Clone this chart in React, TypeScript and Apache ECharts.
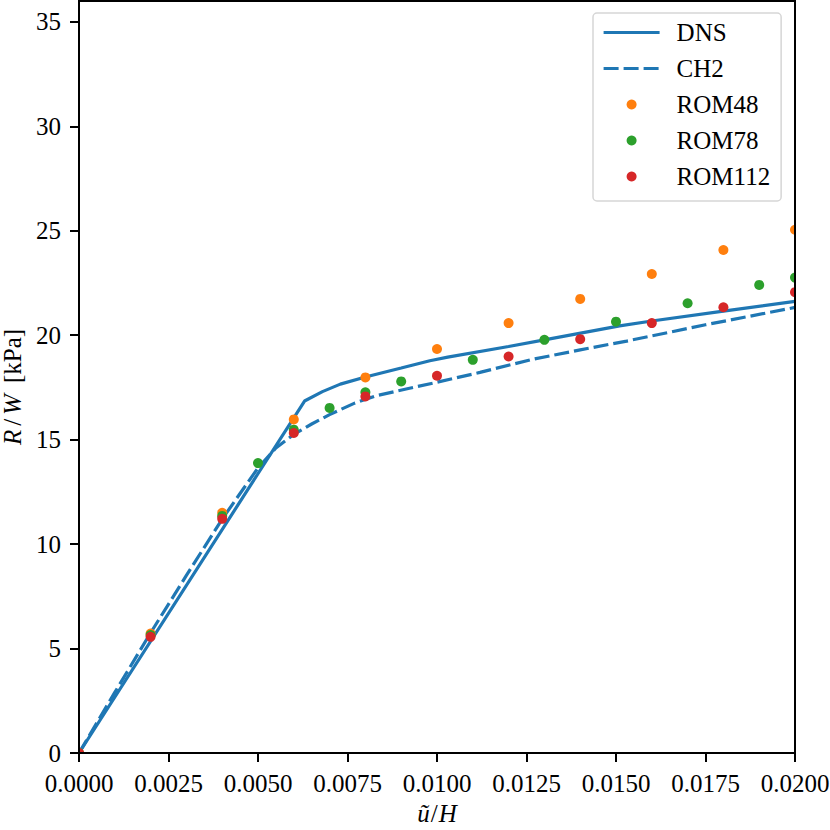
import React, { useEffect, useRef } from "react";
import * as echarts from "echarts";

// ---- data ----
const dnsX = [0, 0.0063, 0.0068, 0.0073, 0.008, 0.009, 0.0098, 0.0103, 0.012, 0.013, 0.0151, 0.016, 0.018, 0.02];
const dnsY = [0, 16.85, 17.3, 17.66, 18.0, 18.43, 18.78, 18.95, 19.46, 19.78, 20.45, 20.68, 21.15, 21.62];

const ch2X = [0, 0.001, 0.002, 0.003, 0.004, 0.005, 0.0055, 0.006, 0.0065, 0.007, 0.0077, 0.0083, 0.0092, 0.01, 0.0112, 0.0126, 0.014, 0.0153, 0.0175, 0.02];
const ch2Y = [0, 2.9, 5.75, 8.5, 11.2, 13.65, 14.6, 15.25, 15.75, 16.2, 16.75, 17.1, 17.45, 17.75, 18.22, 18.82, 19.3, 19.72, 20.5, 21.33];

const rom48X = [0, 0.002, 0.004, 0.006, 0.008, 0.01, 0.012, 0.014, 0.016, 0.018, 0.02];
const rom48Y = [0, 5.72, 11.5, 15.97, 17.98, 19.34, 20.58, 21.74, 22.93, 24.08, 25.05];

const rom78X = [0, 0.002, 0.004, 0.005, 0.006, 0.007, 0.008, 0.009, 0.011, 0.013, 0.015, 0.017, 0.019, 0.02];
const rom78Y = [0, 5.65, 11.35, 13.88, 15.48, 16.52, 17.27, 17.79, 18.82, 19.78, 20.65, 21.53, 22.41, 22.76];

const rom112X = [0, 0.002, 0.004, 0.006, 0.008, 0.01, 0.012, 0.014, 0.016, 0.018, 0.02];
const rom112Y = [0, 5.56, 11.21, 15.32, 17.07, 18.06, 18.98, 19.81, 20.58, 21.34, 22.06];

const yTicks = [0, 5, 10, 15, 20, 25, 30, 35];
const seriesNames = ["DNS", "CH2", "ROM48", "ROM78", "ROM112"];

const FONT = "'Liberation Serif', 'Times New Roman', serif";
const BLUE = "#1f77b4";

const pairs = (xs: number[], ys: number[]) => xs.map((x, i) => [x, ys[i]]);

export default function App() {
  const ref = useRef<HTMLDivElement>(null);
  useEffect(() => {
    if (!ref.current) return;
    const chart = echarts.init(ref.current, undefined, { renderer: "svg" });
    const W = 830;
    const H = 830;
    const gl = 79, gr = 795, gt = 1, gb = 753;
    chart.setOption({
      animation: false,
      backgroundColor: "#fff",
      grid: {
        left: gl,
        right: W - gr,
        top: gt,
        bottom: H - gb,
        show: true,
        borderColor: "#000",
        borderWidth: 2,
        containLabel: false,
        outerBoundsMode: "none",
        z: 4,
      },
      xAxis: {
        type: "value",
        min: 0,
        max: 0.02,
        interval: 0.0025,
        z: 4,
        axisLine: { show: true, onZero: false, lineStyle: { color: "#000", width: 2 } },
        axisTick: { show: true, inside: false, length: 9, lineStyle: { color: "#000", width: 2 } },
        splitLine: { show: false },
        axisLabel: {
          margin: 18,
          fontSize: 25,
          fontFamily: FONT,
          color: "#000",
          formatter: (v: number) => v.toFixed(4),
        },
        name: "{i|ũ}{n|/}{i|H}",
        nameLocation: "middle",
        nameGap: 23,
        nameTextStyle: {
          fontSize: 25,
          fontFamily: FONT,
          color: "#000",
          rich: {
            i: { fontSize: 25, fontFamily: FONT, fontStyle: "italic", color: "#000" },
            n: { fontSize: 25, fontFamily: FONT, color: "#000", padding: [0, 1, 0, 1] },
          },
        },
      },
      yAxis: {
        type: "value",
        min: 0,
        max: 36,
        interval: 5,
        z: 4,
        axisLine: { show: true, onZero: false, lineStyle: { color: "#000", width: 2 } },
        axisTick: {
          show: true,
          inside: false,
          length: 9,
          customValues: yTicks,
          lineStyle: { color: "#000", width: 2 },
        },
        splitLine: { show: false },
        axisLabel: {
          margin: 18,
          fontSize: 25,
          fontFamily: FONT,
          color: "#000",
          customValues: yTicks,
        },
        name: "{i|R}{s|/}{i|W}{n|[kPa]}",
        nameLocation: "middle",
        nameGap: 54,
        nameTextStyle: {
          fontSize: 25,
          fontFamily: FONT,
          color: "#000",
          padding: [0, 20, 0, 0],
          rich: {
            i: { fontSize: 25, fontFamily: FONT, fontStyle: "italic", color: "#000" },
            s: { fontSize: 25, fontFamily: FONT, color: "#000", padding: [0, 4, 0, 4] },
            n: { fontSize: 25, fontFamily: FONT, color: "#000", padding: [0, 0, 0, 11] },
          },
        },
      },
      legend: {
        show: true,
        orient: "vertical",
        left: 593,
        top: 13,
        z: 6,
        padding: [7, 11, 12, 9],
        itemGap: 11,
        itemWidth: 56,
        itemHeight: 10,
        backgroundColor: "rgba(255,255,255,0.85)",
        borderColor: "#d6d6d6",
        borderWidth: 1.5,
        borderRadius: 4,
        lineStyle: { width: 3.2 },
        data: [
          { name: seriesNames[0], itemStyle: { opacity: 0, borderWidth: 0 } },
          { name: seriesNames[1], itemStyle: { opacity: 0, borderWidth: 0 } },
          { name: seriesNames[2] },
          { name: seriesNames[3] },
          { name: seriesNames[4] },
        ],
        textStyle: {
          fontSize: 25,
          fontFamily: FONT,
          color: "#000",
          lineHeight: 25,
          padding: [0, 0, 0, 12],
        },
      },
      graphic: {
        elements: [
          { type: "rect", z: 3, silent: true, shape: { x: gr + 1, y: 0, width: W - gr, height: H }, style: { fill: "#fff" } },
          { type: "rect", z: 3, silent: true, shape: { x: 0, y: gb + 1, width: W, height: H - gb }, style: { fill: "#fff" } },
          { type: "rect", z: 3, silent: true, shape: { x: 0, y: 0, width: gl - 1, height: H }, style: { fill: "#fff" } },
        ],
      },
      series: [
        {
          name: seriesNames[0],
          type: "line",
          symbol: "none",
          data: pairs(dnsX, dnsY),
          lineStyle: { color: BLUE, width: 3.2 },
          itemStyle: { color: BLUE },
          z: 2,
        },
        {
          name: seriesNames[1],
          type: "line",
          symbol: "none",
          data: pairs(ch2X, ch2Y),
          lineStyle: { color: BLUE, width: 3.2, type: [15, 5] },
          itemStyle: { color: BLUE },
          z: 2,
        },
        {
          name: seriesNames[2],
          type: "scatter",
          symbol: "circle",
          symbolSize: 10,
          data: pairs(rom48X, rom48Y),
          itemStyle: { color: "#ff7f0e", opacity: 1 },
          z: 2,
        },
        {
          name: seriesNames[3],
          type: "scatter",
          symbol: "circle",
          symbolSize: 10,
          data: pairs(rom78X, rom78Y),
          itemStyle: { color: "#2ca02c", opacity: 1 },
          z: 2,
        },
        {
          name: seriesNames[4],
          type: "scatter",
          symbol: "circle",
          symbolSize: 10,
          data: pairs(rom112X, rom112Y),
          itemStyle: { color: "#d62728", opacity: 1 },
          z: 2,
        },
      ],
    });
    return () => chart.dispose();
  }, []);
  return (
    <div
      ref={ref}
      style={{ position: "absolute", left: 0, top: 0, width: 830, height: 830, background: "#fff" }}
    />
  );
}
